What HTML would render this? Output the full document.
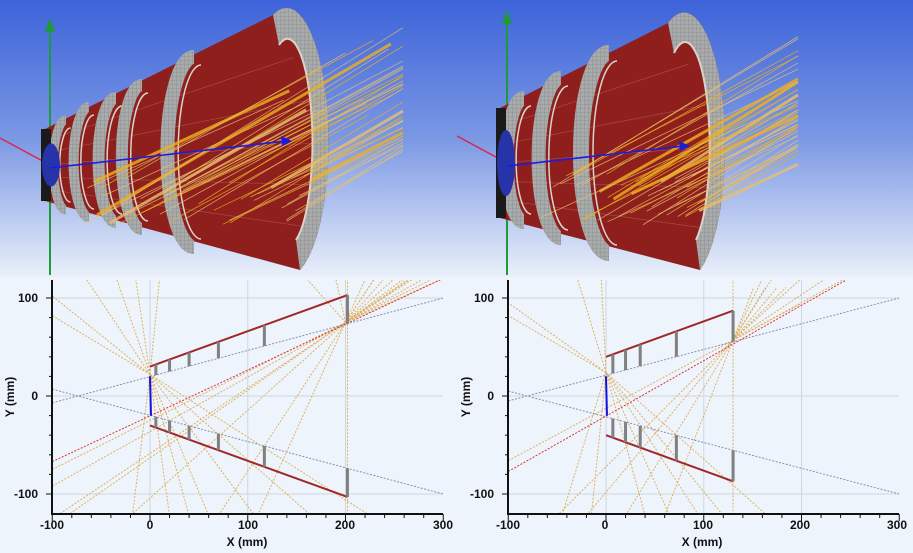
<!DOCTYPE html>
<html><head><meta charset="utf-8"><style>
html,body{margin:0;padding:0;background:#eef4fc}
svg{display:block}
text{font-family:"Liberation Sans",sans-serif;font-weight:bold;font-size:12px;fill:#111}
</style></head><body>
<svg id="s" width="913" height="553" viewBox="0 0 913 553" xmlns="http://www.w3.org/2000/svg">
<defs>
<linearGradient id="bg" x1="0" y1="0" x2="0" y2="1">
<stop offset="0" stop-color="#3d63d9"/><stop offset="0.5" stop-color="#7b98e4"/><stop offset="1" stop-color="#eaf0fa"/>
</linearGradient>
<pattern id="mesh" width="4" height="4" patternUnits="userSpaceOnUse"><rect width="4" height="4" fill="#a9abab"/><path d="M0 0H4M0 0V4" stroke="#7a7d7e" stroke-width="0.6"/></pattern>
<clipPath id="c1"><rect x="52" y="280" width="391" height="234"/></clipPath>
<clipPath id="c2"><rect x="508" y="280" width="391" height="234"/></clipPath>
</defs>
<rect x="0" y="0" width="913" height="277" fill="url(#bg)"/>
<rect x="0" y="277" width="913" height="276" fill="#eef4fc"/>
<g id="g3d"></g>
<g id="plots"></g>
<g>
<text x="38" y="302" text-anchor="end">100</text>
<text x="38" y="400" text-anchor="end">0</text>
<text x="38" y="498" text-anchor="end">-100</text>
<text x="52" y="529" text-anchor="middle">-100</text>
<text x="150" y="529" text-anchor="middle">0</text>
<text x="248" y="529" text-anchor="middle">100</text>
<text x="345" y="529" text-anchor="middle">200</text>
<text x="443" y="529" text-anchor="middle">300</text>
<text x="247" y="546" text-anchor="middle">X (mm)</text>
<text transform="translate(14,397) rotate(-90)" text-anchor="middle">Y (mm)</text>
<text x="494" y="302" text-anchor="end">100</text>
<text x="494" y="400" text-anchor="end">0</text>
<text x="494" y="498" text-anchor="end">-100</text>
<text x="508" y="529" text-anchor="middle">-100</text>
<text x="605" y="529" text-anchor="middle">0</text>
<text x="703" y="529" text-anchor="middle">100</text>
<text x="800" y="529" text-anchor="middle">200</text>
<text x="897" y="529" text-anchor="middle">300</text>
<text x="702" y="546" text-anchor="middle">X (mm)</text>
<text transform="translate(470,397) rotate(-90)" text-anchor="middle">Y (mm)</text>
</g>
</svg>
<script>
var NS="http://www.w3.org/2000/svg";
function el(p,t,a){var e=document.createElementNS(NS,t);for(var k in a)e.setAttribute(k,a[k]);p.appendChild(e);return e;}
var seed=7;function rnd(){seed=(seed*16807)%2147483647;return seed/2147483647;}
var G=document.getElementById('g3d'),P=document.getElementById('plots');
function scene(ox,small,large,rings){
 el(G,'line',{x1:ox,y1:275,x2:ox,y2:small.ax,stroke:'#1e9a3a','stroke-width':2});
 el(G,'path',{d:'M'+(ox-5)+' '+(small.ax+2)+'L'+ox+' '+(small.ax-12)+'L'+(ox+5)+' '+(small.ax+2)+'Z',fill:'#1e9a3a'});
 el(G,'line',{x1:ox-50,y1:small.cy-27,x2:ox,y2:small.cy,stroke:'#e0204a','stroke-width':1.3});
 el(G,'path',{d:'M'+small.x+' '+(small.cy-small.ry)+'L'+large.tx+' '+large.ty+'A'+large.rx+' '+large.ry+' 0 0 1 '+large.bx+' '+large.by+'L'+small.x+' '+(small.cy+small.ry)+'Z',fill:'#8e1f1c'});
 // faint mesh lines on body
 for(var k=1;k<6;k++){var f=k/6;el(G,'line',{x1:small.x,y1:small.cy-small.ry+2*small.ry*f,x2:large.tx+(large.bx-large.tx)*f+large.rx*Math.sin(Math.PI*f)*0.8,y2:large.ty+(large.by-large.ty)*f,stroke:'#c07070','stroke-width':0.6,opacity:0.6});}
 el(G,'path',{d:'M'+large.tx+' '+large.ty+'A'+large.rx+' '+large.ry+' 0 0 1 '+large.bx+' '+large.by+'L'+(large.bx-4)+' '+(large.by-30)+'A'+(large.rx*0.6)+' '+(large.ry*0.78)+' 0 0 0 '+(large.tx+6)+' '+(large.ty+30)+'Z',fill:'url(#mesh)'});
 el(G,'path',{d:'M'+(large.tx+6)+' '+(large.ty+30)+'A'+(large.rx*0.6)+' '+(large.ry*0.78)+' 0 0 1 '+(large.bx-4)+' '+(large.by-30),fill:'none',stroke:'#d8d4cc','stroke-width':2});
 rings.forEach(function(r){
  el(G,'path',{d:'M'+(r[0]+4)+' '+(r[1]-r[2])+'A'+(r[2]*0.28)+' '+r[2]+' 0 0 0 '+(r[0]+4)+' '+(r[1]+r[2]),fill:'none',stroke:'url(#mesh)','stroke-width':r[3]});
  el(G,'path',{d:'M'+(r[0]+4+r[3]/2)+' '+(r[1]-r[2]+8)+'A'+(r[2]*0.24)+' '+(r[2]-8)+' 0 0 0 '+(r[0]+4+r[3]/2)+' '+(r[1]+r[2]-8),fill:'none',stroke:'#d8d4cc','stroke-width':1.5});
 });
 el(G,'rect',{x:small.x-4,y:small.cy-small.ry,width:10,height:small.ry*2,fill:'#1a1a1a'});
 el(G,'ellipse',{cx:small.x+6,cy:small.cy,rx:9,ry:small.ry*0.6,fill:'#2733a8'});
 for(var i=0;i<45;i++){
  var x0=small.x+40+rnd()*(large.tx-small.x),y0=small.cy+10+rnd()*(large.by-small.cy-40)*0.8;
  var len=200+rnd()*200,ang=-0.42-rnd()*0.15;
  var x1=x0+len*Math.cos(ang),y1=y0+len*Math.sin(ang);
  if(x1>large.tx+130){var f=(large.tx+130-x0)/(x1-x0);x1=x0+(x1-x0)*f;y1=y0+(y1-y0)*f;}
  el(G,'line',{x1:x0,y1:y0,x2:x1,y2:y1,stroke:rnd()<0.5?'#f0b020':'#e8c070','stroke-width':rnd()<0.08?3:0.8,opacity:0.8});
 }
 el(G,'line',{x1:ox,y1:small.cy+3,x2:small.bx-6,y2:small.by,stroke:'#1c1ce0','stroke-width':1.6});
 el(G,'path',{d:'M'+small.bx+' '+small.by+'l-11 -5l1 10z',fill:'#1c1ce0'});
}
scene(50,{x:45,cy:165,ry:36,ax:30,bx:292,by:141},{tx:273,ty:15,bx:300,by:270,rx:40,ry:128},
 [[62,165,45,9],[85,162,55,10],[112,160,62,12],[138,157,72,12],[190,152,95,14]]);
scene(507,{x:500,cy:163,ry:55,ax:22,bx:690,by:146},{tx:668,ty:23,bx:700,by:270,rx:38,ry:124},
 [[520,160,62,14],[557,158,80,14],[605,153,100,16]]);
function plot(x0,geom,cid){
 var sx=function(m){return x0+98+m*0.9775;},sy=function(m){return 396-m*0.98;};
 var L=x0, R=x0+391;
 var C=el(P,'g',{'clip-path':'url(#'+cid+')'});
 [0,100,200].forEach(function(m){el(C,'line',{x1:sx(m),y1:280,x2:sx(m),y2:514,stroke:'#cfd6de','stroke-width':1});});
 [100,0,-100].forEach(function(m){el(C,'line',{x1:L,y1:sy(m),x2:R,y2:sy(m),stroke:'#cfd6de','stroke-width':1});});
 function dl(a,b,c,w){el(C,'line',{x1:sx(a[0]),y1:sy(a[1]),x2:sx(b[0]),y2:sy(b[1]),stroke:c,'stroke-width':w||1,'stroke-dasharray':'2 1.5'});}
 geom.rays.forEach(function(r){dl(r[0],r[1],'#e0b060');});
 dl([-100,geom.g1],[300,100],'#8a90a8');dl([-100,-geom.g1],[300,-100],'#8a90a8');
 dl(geom.red[0],geom.red[1],'#e03030');
 el(C,'line',{x1:sx(0),y1:sy(geom.r0),x2:sx(geom.rx),y2:sy(geom.r1),stroke:'#a02828','stroke-width':2});
 el(C,'line',{x1:sx(0),y1:sy(-geom.r0),x2:sx(geom.rx),y2:sy(-geom.r1),stroke:'#a02828','stroke-width':2});
 geom.slabs.forEach(function(s){
  var top=geom.r0+(geom.r1-geom.r0)*s/geom.rx, bot=geom.g1+(100-geom.g1)*(s+100)/400;
  el(C,'line',{x1:sx(s),y1:sy(top),x2:sx(s),y2:sy(bot),stroke:'#808080','stroke-width':3});
  el(C,'line',{x1:sx(s),y1:sy(-top),x2:sx(s),y2:sy(-bot),stroke:'#808080','stroke-width':3});
 });
 el(C,'line',{x1:sx(0),y1:sy(20),x2:sx(1),y2:sy(-20),stroke:'#1010e0','stroke-width':2});
 el(P,'line',{x1:L,y1:280,x2:L,y2:515,stroke:'#111','stroke-width':2});
 el(P,'line',{x1:L-1,y1:514,x2:R,y2:514,stroke:'#111','stroke-width':2});
 for(var m=-100;m<=300;m+=20){el(P,'line',{x1:sx(m),y1:514,x2:sx(m),y2:m%100==0?521:518,stroke:'#111','stroke-width':1});}
 for(var m=-100;m<=100;m+=20){el(P,'line',{x1:L,y1:sy(m),x2:L-(m%100==0?6:3),y2:sy(m),stroke:'#111','stroke-width':1});}
}
var r1=[],fx=200,fy=75;
[[-100,102],[-100,82],[-67,122],[-35,122],[-15,122],[10,122],[40,-122],[60,-122],[107,-122],[225,-122],[165,-122],[20,-122],[-18,-122]].forEach(function(p){r1.push([[0,22],p]);});
[[-100,-75],[-100,-92],[-95,-122],[-85,-122],[-20,-122],[70,-122],[110,-122],[300,120],[270,120],[260,120],[240,120],[230,120],[190,120],[160,120]].forEach(function(a){r1.push([a[1]>100?[fx,fy]:a,a[1]>100?a:[fx+(fx-a[0])*0.4,fy+(fy-a[1])*0.4]]);});
r1.push([[202,120],[202,-120]]);
plot(52,{rays:r1,g1:-7,red:[[-100,-67],[300,120]],r0:30,r1:103,rx:202,slabs:[6,20,40,70,117,202]},'c1');
var r2=[],gx=130,gy=57;
[[-100,95],[-100,82],[-30,122],[-5,122],[40,-122],[65,-122],[95,-122],[120,-122],[-15,-122],[-45,-122],[165,-122]].forEach(function(p){r2.push([[0,24],p]);});
[[-100,-66],[-50,-122],[-20,-122],[20,-122],[60,-122],[160,120],[170,120],[200,120],[225,120],[245,120]].forEach(function(a){r2.push([a[1]>100?[gx,gy]:a,a[1]>100?a:[gx+(gx-a[0])*0.3,gy+(gy-a[1])*0.3]]);});
r2.push([[130,120],[130,-120]]);
plot(508,{rays:r2,g1:-5,red:[[-100,-77],[245,118]],r0:40,r1:87,rx:130,slabs:[7,20,35,72,130]},'c2');
</script>
</body></html>
